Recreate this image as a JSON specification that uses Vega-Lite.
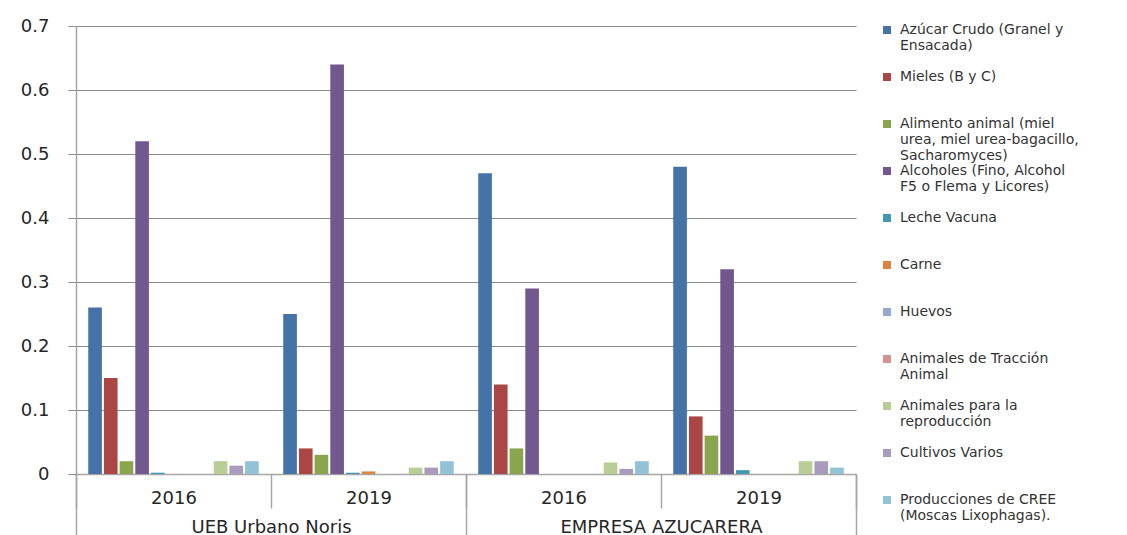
{
  "$schema": "https://vega.github.io/schema/vega-lite/v6.json",
  "width": 780,
  "height": 448,
  "autosize": "none",
  "padding": {"left": 76, "top": 26, "right": 271, "bottom": 61},
  "background": "white",
  "config": {"view": {"stroke": null}, "font": "DejaVu Sans"},
  "data": {
    "values": [
      {"company": "UEB Urbano Noris", "grp": "UEB Urbano Noris|2016", "s": "Azúcar Crudo (Granel y|Ensacada)", "v": 0.26},
      {"company": "UEB Urbano Noris", "grp": "UEB Urbano Noris|2016", "s": "Mieles (B y C)", "v": 0.15},
      {"company": "UEB Urbano Noris", "grp": "UEB Urbano Noris|2016", "s": "Alimento animal (miel|urea, miel urea-bagacillo,|Sacharomyces)", "v": 0.02},
      {"company": "UEB Urbano Noris", "grp": "UEB Urbano Noris|2016", "s": "Alcoholes (Fino, Alcohol|F5 o Flema y Licores)", "v": 0.52},
      {"company": "UEB Urbano Noris", "grp": "UEB Urbano Noris|2016", "s": "Leche Vacuna", "v": 0.002},
      {"company": "UEB Urbano Noris", "grp": "UEB Urbano Noris|2016", "s": "Carne", "v": 0},
      {"company": "UEB Urbano Noris", "grp": "UEB Urbano Noris|2016", "s": "Huevos", "v": 0},
      {"company": "UEB Urbano Noris", "grp": "UEB Urbano Noris|2016", "s": "Animales de Tracción|Animal", "v": 0},
      {"company": "UEB Urbano Noris", "grp": "UEB Urbano Noris|2016", "s": "Animales para la|reproducción", "v": 0.02},
      {"company": "UEB Urbano Noris", "grp": "UEB Urbano Noris|2016", "s": " Cultivos Varios", "v": 0.013},
      {"company": "UEB Urbano Noris", "grp": "UEB Urbano Noris|2016", "s": "Producciones de CREE|(Moscas Lixophagas).", "v": 0.02},
      {"company": "UEB Urbano Noris", "grp": "UEB Urbano Noris|2019", "s": "Azúcar Crudo (Granel y|Ensacada)", "v": 0.25},
      {"company": "UEB Urbano Noris", "grp": "UEB Urbano Noris|2019", "s": "Mieles (B y C)", "v": 0.04},
      {"company": "UEB Urbano Noris", "grp": "UEB Urbano Noris|2019", "s": "Alimento animal (miel|urea, miel urea-bagacillo,|Sacharomyces)", "v": 0.03},
      {"company": "UEB Urbano Noris", "grp": "UEB Urbano Noris|2019", "s": "Alcoholes (Fino, Alcohol|F5 o Flema y Licores)", "v": 0.64},
      {"company": "UEB Urbano Noris", "grp": "UEB Urbano Noris|2019", "s": "Leche Vacuna", "v": 0.002},
      {"company": "UEB Urbano Noris", "grp": "UEB Urbano Noris|2019", "s": "Carne", "v": 0.004},
      {"company": "UEB Urbano Noris", "grp": "UEB Urbano Noris|2019", "s": "Huevos", "v": 0},
      {"company": "UEB Urbano Noris", "grp": "UEB Urbano Noris|2019", "s": "Animales de Tracción|Animal", "v": 0},
      {"company": "UEB Urbano Noris", "grp": "UEB Urbano Noris|2019", "s": "Animales para la|reproducción", "v": 0.01},
      {"company": "UEB Urbano Noris", "grp": "UEB Urbano Noris|2019", "s": " Cultivos Varios", "v": 0.01},
      {"company": "UEB Urbano Noris", "grp": "UEB Urbano Noris|2019", "s": "Producciones de CREE|(Moscas Lixophagas).", "v": 0.02},
      {"company": "EMPRESA AZUCARERA", "grp": "EMPRESA AZUCARERA|2016", "s": "Azúcar Crudo (Granel y|Ensacada)", "v": 0.47},
      {"company": "EMPRESA AZUCARERA", "grp": "EMPRESA AZUCARERA|2016", "s": "Mieles (B y C)", "v": 0.14},
      {"company": "EMPRESA AZUCARERA", "grp": "EMPRESA AZUCARERA|2016", "s": "Alimento animal (miel|urea, miel urea-bagacillo,|Sacharomyces)", "v": 0.04},
      {"company": "EMPRESA AZUCARERA", "grp": "EMPRESA AZUCARERA|2016", "s": "Alcoholes (Fino, Alcohol|F5 o Flema y Licores)", "v": 0.29},
      {"company": "EMPRESA AZUCARERA", "grp": "EMPRESA AZUCARERA|2016", "s": "Leche Vacuna", "v": 0},
      {"company": "EMPRESA AZUCARERA", "grp": "EMPRESA AZUCARERA|2016", "s": "Carne", "v": 0},
      {"company": "EMPRESA AZUCARERA", "grp": "EMPRESA AZUCARERA|2016", "s": "Huevos", "v": 0},
      {"company": "EMPRESA AZUCARERA", "grp": "EMPRESA AZUCARERA|2016", "s": "Animales de Tracción|Animal", "v": 0},
      {"company": "EMPRESA AZUCARERA", "grp": "EMPRESA AZUCARERA|2016", "s": "Animales para la|reproducción", "v": 0.018},
      {"company": "EMPRESA AZUCARERA", "grp": "EMPRESA AZUCARERA|2016", "s": " Cultivos Varios", "v": 0.008},
      {"company": "EMPRESA AZUCARERA", "grp": "EMPRESA AZUCARERA|2016", "s": "Producciones de CREE|(Moscas Lixophagas).", "v": 0.02},
      {"company": "EMPRESA AZUCARERA", "grp": "EMPRESA AZUCARERA|2019", "s": "Azúcar Crudo (Granel y|Ensacada)", "v": 0.48},
      {"company": "EMPRESA AZUCARERA", "grp": "EMPRESA AZUCARERA|2019", "s": "Mieles (B y C)", "v": 0.09},
      {"company": "EMPRESA AZUCARERA", "grp": "EMPRESA AZUCARERA|2019", "s": "Alimento animal (miel|urea, miel urea-bagacillo,|Sacharomyces)", "v": 0.06},
      {"company": "EMPRESA AZUCARERA", "grp": "EMPRESA AZUCARERA|2019", "s": "Alcoholes (Fino, Alcohol|F5 o Flema y Licores)", "v": 0.32},
      {"company": "EMPRESA AZUCARERA", "grp": "EMPRESA AZUCARERA|2019", "s": "Leche Vacuna", "v": 0.006},
      {"company": "EMPRESA AZUCARERA", "grp": "EMPRESA AZUCARERA|2019", "s": "Carne", "v": 0},
      {"company": "EMPRESA AZUCARERA", "grp": "EMPRESA AZUCARERA|2019", "s": "Huevos", "v": 0},
      {"company": "EMPRESA AZUCARERA", "grp": "EMPRESA AZUCARERA|2019", "s": "Animales de Tracción|Animal", "v": 0},
      {"company": "EMPRESA AZUCARERA", "grp": "EMPRESA AZUCARERA|2019", "s": "Animales para la|reproducción", "v": 0.02},
      {"company": "EMPRESA AZUCARERA", "grp": "EMPRESA AZUCARERA|2019", "s": " Cultivos Varios", "v": 0.02},
      {"company": "EMPRESA AZUCARERA", "grp": "EMPRESA AZUCARERA|2019", "s": "Producciones de CREE|(Moscas Lixophagas).", "v": 0.01}
    ]
  },
  "layer": [
    {
      "mark": {"type": "bar"},
      "encoding": {
        "x": {
          "field": "grp",
          "type": "nominal",
          "sort": ["UEB Urbano Noris|2016", "UEB Urbano Noris|2019", "EMPRESA AZUCARERA|2016", "EMPRESA AZUCARERA|2019"],
          "scale": {"paddingInner": 0, "paddingOuter": 0},
          "axis": {
            "title": null,
            "labelExpr": "split(datum.value, '|')[1]",
            "labelAngle": 0,
            "tickBand": "extent",
            "tickSize": 34,
            "tickColor": "#a6a6a6",
            "tickWidth": 1.5,
            "domainColor": "#a6a6a6",
            "domainWidth": 1.5,
            "labelFontSize": 18,
            "labelPadding": -19,
            "labelColor": "#262626",
            "labelFont": "DejaVu Sans",
            "grid": false
          }
        },
        "xOffset": {
          "field": "s",
          "type": "nominal",
          "scale": {
            "domain": ["Azúcar Crudo (Granel y|Ensacada)", "Mieles (B y C)", "Alimento animal (miel|urea, miel urea-bagacillo,|Sacharomyces)", "Alcoholes (Fino, Alcohol|F5 o Flema y Licores)", "Leche Vacuna", "Carne", "Huevos", "Animales de Tracción|Animal", "Animales para la|reproducción", " Cultivos Varios", "Producciones de CREE|(Moscas Lixophagas)."],
            "paddingInner": 0.13,
            "paddingOuter": 0.78
          }
        },
        "y": {
          "field": "v",
          "type": "quantitative",
          "scale": {"domain": [0, 0.7], "nice": false},
          "axis": {
            "title": null,
            "values": [0, 0.1, 0.2, 0.3, 0.4, 0.5, 0.6, 0.7],
            "format": ".1~f",
            "grid": true,
            "gridColor": "#8c8c8c",
            "gridWidth": 1,
            "tickSize": 8,
            "tickColor": "#8c8c8c",
            "domainColor": "#a6a6a6",
            "domainWidth": 1.5,
            "labelFontSize": 18,
            "labelPadding": 19,
            "labelColor": "#262626",
            "labelFont": "DejaVu Sans"
          }
        },
        "color": {
          "field": "s",
          "type": "nominal",
          "scale": {
            "domain": ["Azúcar Crudo (Granel y|Ensacada)", "Mieles (B y C)", "Alimento animal (miel|urea, miel urea-bagacillo,|Sacharomyces)", "Alcoholes (Fino, Alcohol|F5 o Flema y Licores)", "Leche Vacuna", "Carne", "Huevos", "Animales de Tracción|Animal", "Animales para la|reproducción", " Cultivos Varios", "Producciones de CREE|(Moscas Lixophagas)."],
            "range": ["#4572A7", "#AA4643", "#89A54E", "#71588F", "#4198AF", "#DB843D", "#93A9CF", "#D19392", "#B9CD96", "#A99BBD", "#92C3D4"]
          },
          "legend": {
            "title": null,
            "orient": "none",
            "legendX": 804,
            "legendY": -3,
            "padding": 0,
            "gridAlign": "all",
            "rowPadding": 1,
            "symbolType": "square",
            "symbolSize": 64,
            "symbolStrokeWidth": 0,
            "symbolOpacity": 1,
            "labelFontSize": 14,
            "labelFont": "DejaVu Sans",
            "labelColor": "#333333",
            "labelLimit": 320,
            "labelOffset": 6,
            "labelExpr": "split(datum.label, '|')",
            "encode": {"labels": {"update": {"lineHeight": {"value": 16}}}}
          }
        }
      }
    },
    {
      "mark": {"type": "text", "text": ""},
      "encoding": {
        "x": {
          "field": "company",
          "type": "nominal",
          "sort": ["UEB Urbano Noris", "EMPRESA AZUCARERA"],
          "scale": {"paddingInner": 0, "paddingOuter": 0},
          "axis": {
            "orient": "bottom",
            "title": null,
            "labelAngle": 0,
            "tickBand": "extent",
            "tickSize": 61,
            "tickColor": "#a6a6a6",
            "tickWidth": 1.5,
            "domain": false,
            "labelFontSize": 18,
            "labelLimit": 400,
            "labelPadding": -17,
            "labelColor": "#262626",
            "labelFont": "DejaVu Sans",
            "grid": false
          }
        }
      }
    }
  ],
  "resolve": {"scale": {"x": "independent"}}
}
